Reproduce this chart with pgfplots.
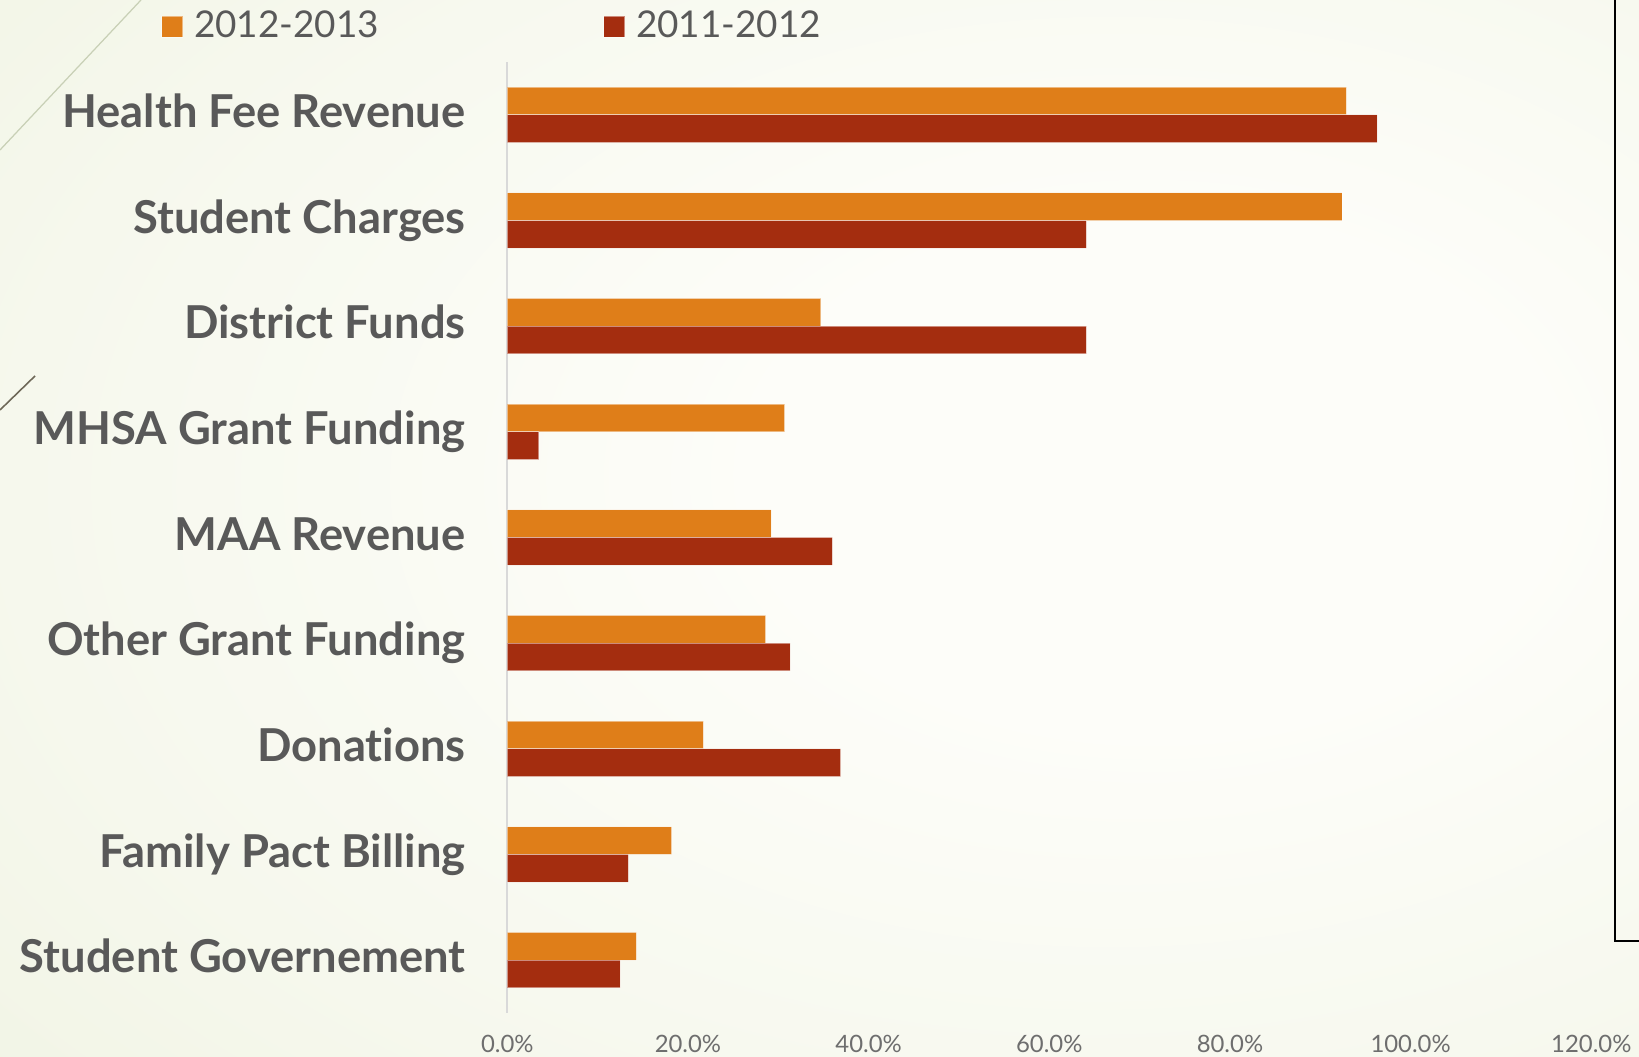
\documentclass[border=0pt]{standalone}
\usepackage{pgfplots}
\pgfplotsset{compat=1.18}
\usepackage{fontspec}
\setmainfont{Lato}[Ligatures=NoCommon]
\definecolor{orng}{RGB}{223,126,25}
\definecolor{rust}{RGB}{164,45,15}
\definecolor{lbl}{RGB}{89,89,89}
\definecolor{tck}{RGB}{110,110,110}
\definecolor{bgA}{RGB}{253,253,249}
\definecolor{bgB}{RGB}{246,248,237}
\definecolor{bgC}{RGB}{234,239,218}
\definecolor{bgD}{RGB}{226,232,204}
\pgfdeclareradialshading{slidebg}{\pgfpoint{12bp}{3bp}}{color(0bp)=(bgA); color(12bp)=(bgA); color(32bp)=(bgB); color(58bp)=(bgC); color(85bp)=(bgD)}
\begin{document}
\begin{tikzpicture}
\useasboundingbox (0,0) rectangle (163.9mm,105.7mm);
\shade[shading=slidebg] (0,0) rectangle (163.9mm,105.7mm);
\draw[color={rgb,255:red,200;green,208;blue,182}, line width=0.35pt] (14.1mm,105.7mm) -- (0mm,90.7mm);
\draw[color={rgb,255:red,110;green,104;blue,88}, line width=0.45pt] (3.5mm,68.1mm) -- (0mm,64.7mm);
\draw[black, line width=0.6pt] (161.5mm,106mm) -- (161.5mm,11.6mm) -- (164.5mm,11.6mm);
\begin{axis}[
  at={(50.73mm,4.4mm)}, anchor=south west,
  scale only axis, width=108.4mm, height=95.1mm,
  xmin=0, xmax=120, ymin=-0.5, ymax=8.5,
  axis x line*=bottom, axis y line*=left,
  x axis line style={draw=none},
  y axis line style={draw={rgb,255:red,217;green,217;blue,217}, line width=0.6pt},
  major tick length=0pt,
  xtick={0,20,40,60,80,100,120},
  xticklabels={0.0\%,20.0\%,40.0\%,60.0\%,80.0\%,100.0\%,120.0\%},
  xticklabel style={anchor=center, yshift=-3.05mm, font=\fontsize{6.8}{8}\selectfont, text=tck},
  ytick={0,1,2,3,4,5,6,7,8},
  yticklabels={Student Governement, Family Pact Billing, Donations, Other Grant Funding, MAA Revenue, MHSA Grant Funding, District Funds, Student Charges, Health Fee Revenue},
  yticklabel style={anchor=base east, inner sep=0pt, xshift=-4.1mm, yshift=-0.36em, font=\fontsize{12.9}{14}\selectfont\bfseries, text=lbl},
  legend columns=2,
  legend image code/.code={\fill[#1] (0mm,-1.05mm) rectangle (2.1mm,1.05mm);},
  legend style={at={(-0.3192,1.037)}, anchor=west, draw=none, fill=none, inner sep=0pt, outer sep=0pt,
    font=\fontsize{10.5}{13}\selectfont, text=lbl,
    /tikz/every odd column/.append style={column sep=0.4mm},
    /tikz/every even column/.append style={column sep=21.7mm}},
]
\addplot[xbar, bar width=0.262, bar shift=0.131, fill=orng, draw=white, draw opacity=0.45, line width=0.25pt]
  coordinates {(14.3,0) (18.2,1) (21.7,2) (28.6,3) (29.2,4) (30.7,5) (34.7,6) (92.4,7) (92.9,8)};
\addlegendentry{2012-2013}
\addplot[xbar, bar width=0.262, bar shift=-0.131, fill=rust, draw=white, draw opacity=0.45, line width=0.25pt]
  coordinates {(12.5,0) (13.4,1) (36.9,2) (31.3,3) (36.0,4) (3.5,5) (64.1,6) (64.1,7) (96.3,8)};
\addlegendentry{2011-2012}
\end{axis}
\end{tikzpicture}
\end{document}
